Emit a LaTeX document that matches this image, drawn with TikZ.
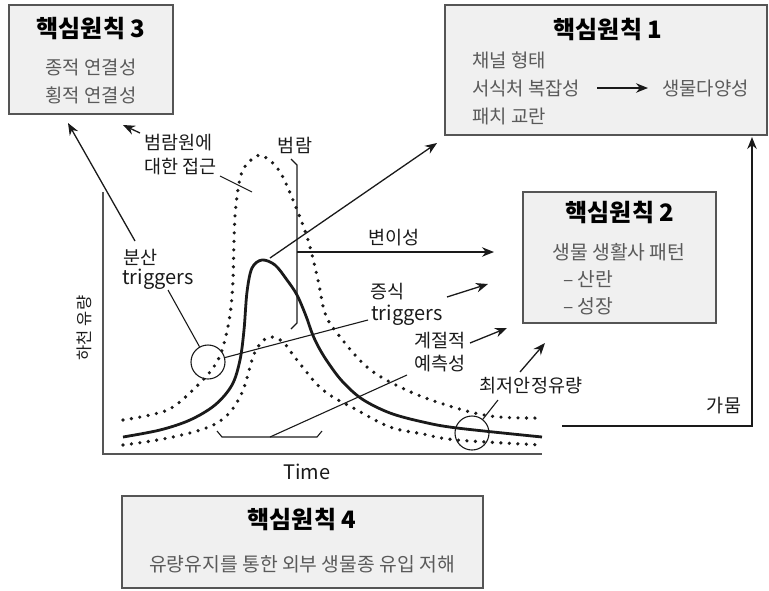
\documentclass[tikz,border=0pt]{standalone}
\usepackage{fontspec}
\setmainfont{Noto Sans CJK KR}
\usetikzlibrary{arrows.meta}
\definecolor{boxfill}{HTML}{F0F0F0}
\definecolor{boxline}{HTML}{555555}
\definecolor{bodytxt}{HTML}{5A5A5A}
\definecolor{ink}{HTML}{1A1A1A}
\begin{document}
\begin{tikzpicture}[x=1pt,y=-1pt,
 box/.style={draw=boxline,fill=boxfill,line width=1.6pt,inner sep=0pt},
 ttl/.style={font=\fontsize{24}{28}\selectfont\bfseries,text=black,inner sep=0pt},
 body/.style={font=\fontsize{18.8}{22}\selectfont,text=bodytxt,inner sep=0pt},
 bodyb/.style={font=\fontsize{19.3}{23}\selectfont,text=bodytxt,inner sep=0pt},
 lbl/.style={font=\fontsize{18.5}{21}\selectfont,text=ink,inner sep=0pt,align=left},
 lat/.style={font=\fontsize{20}{22}\selectfont},
 arr/.style={-{Stealth[length=12pt,width=9.5pt]},line width=1.3pt,draw=ink},
 lead/.style={line width=1.1pt,draw=ink},
 dots/.style={line width=3.6pt,line cap=round,dash pattern=on 0pt off 8.5pt,draw=ink},
 flow/.style={line width=2.8pt,draw=ink,line join=round},
 ring/.style={circle,draw=ink,line width=1.1pt,minimum size=34pt,inner sep=0pt},
]
\useasboundingbox (0,0) rectangle (769,590);

% ---------- boxes ----------
\node[box,minimum width=164pt,minimum height=109pt] (b3) at (91,59.5) {};
\node[ttl] (b3t) at (91,28) {핵심원칙 3};
\node[body] (b3a) at (91,67) {종적 연결성};
\node[body] (b3b) at (91,95) {횡적 연결성};

\node[box,minimum width=322pt,minimum height=130pt] (b1) at (606,70) {};
\node[ttl] (b1t) at (608,29) {핵심원칙 1};
\node[body,anchor=west] (b1a) at (472,60) {채널 형태};
\node[body,anchor=west] (b1b) at (472,88) {서식처 복잡성};
\node[body,anchor=west] (b1c) at (472,116) {패치 교란};
\node[body,anchor=west] (b1d) at (662,88) {생물다양성};
\coordinate (b1s) at (597,88);
\coordinate (b1e) at (648,88);
\draw[arr] (b1s) -- (b1e);

\node[box,minimum width=193pt,minimum height=131pt] (b2) at (619.5,257.5) {};
\node[ttl] (b2t) at (620,212) {핵심원칙 2};
\node[bodyb] (b2a) at (619,252) {생물 생활사 패턴};
\node[bodyb,anchor=west] (b2b) at (563,279) {– 산란};
\node[bodyb,anchor=west] (b2c) at (563,306) {– 성장};

\node[box,minimum width=361pt,minimum height=92pt] (b4) at (302.5,542) {};
\node[ttl] (b4t) at (302,519) {핵심원칙 4};
\node[bodyb] (b4a) at (302,564) {유량유지를 통한 외부 생물종 유입 저해};

% ---------- axes ----------
\coordinate (ytop) at (103,192);
\coordinate (orig) at (103,454);
\coordinate (xend) at (542,454);
\draw[line width=1.5pt,draw=boxline] (ytop) -- (orig) -- (xend);
\node[lbl,font=\fontsize{16.5}{19}\selectfont,rotate=90] (ylab) at (84,328) {하천 유량};
\node[lbl,lat] (time) at (307,472) {Time};

% ---------- curves ----------
\draw[dots] plot[smooth,tension=0.6] coordinates {(123,420) (150,415) (173,407) (200,383) (215,365) (223,347) (230,315) (233,280) (234,240) (236,205) (242,172) (255,157) (265,157) (280,172) (295,205) (308,240) (318,280) (325,313) (337,333) (367,367) (400,387) (440,403) (490,416) (542,418)};
\draw[dots] plot[smooth,tension=0.6] coordinates {(123,445) (173,437) (217,423) (240,397) (253,357) (260,344) (270,337) (283,342) (297,360) (323,390) (357,410) (390,427) (423,434) (457,440) (542,445)};
\draw[flow] plot[smooth,tension=0.55] coordinates {(123,437) (160,430) (190,420) (215,405) (232,385) (240,360) (244,330) (247,292) (252,268) (262,260) (275,265) (287,280) (297,295) (306,316) (312,333) (318,346) (327,361) (342,381) (362,399) (390,413) (423,422) (457,428) (542,437)};

% ---------- rings ----------
\node[ring] (c1) at (208,362) {};
\node[ring] (c2) at (472,433) {};

% ---------- labels ----------
\node[lbl,anchor=west] (bunsan) at (123,257) {분산};
\node[lbl,lat,anchor=west] (trig1) at (122,279) {triggers};
\node[lbl,anchor=west] (acc1) at (144,143) {범람원에};
\node[lbl,anchor=west] (acc2) at (144,167) {대한 접근};
\node[lbl] (flood) at (295,145) {범람};
\node[lbl] (var) at (394,238) {변이성};
\node[lbl,anchor=west] (jeung) at (370,292) {증식};
\node[lbl,lat,anchor=west] (trig2) at (371,315) {triggers};
\node[lbl] (seas1) at (440,341) {계절적};
\node[lbl] (seas2) at (440,364) {예측성};
\node[lbl] (minf) at (531,386) {최저안정유량};
\node[lbl] (drought) at (724,406) {가뭄};

% ---------- connectors ----------
\coordinate (s1) at (135,241);  \coordinate (t3a) at (68,123);
\draw[arr] (s1) -- (t3a);
\coordinate (s2) at (140,133);  \coordinate (t3b) at (123,125);
\draw[arr] (s2) -- (t3b);
\coordinate (l1) at (168,290);
\draw[lead] (l1) -- (c1);
\coordinate (k1) at (368,320);
\draw[lead] (c1) -- (k1);
\coordinate (a1) at (220,176); \coordinate (a2) at (252,192);
\draw[lead] (a1) -- (a2);
\coordinate (fb1) at (291,159); \coordinate (fb2) at (297,165);
\coordinate (fb3) at (297,323); \coordinate (fb4) at (291,329);
\draw[lead] (fb1) -- (fb2) -- (fb3) -- (fb4);
\coordinate (vs) at (297,252); \coordinate (ve) at (494,252);
\draw[arr] (vs) -- (ve);
\coordinate (pk) at (270,258); \coordinate (pe) at (437,143);
\draw[arr] (pk) -- (pe);
\coordinate (bb1) at (217,431); \coordinate (bb2) at (222,437);
\coordinate (bb3) at (317,437); \coordinate (bb4) at (322,431);
\draw[lead] (bb1) -- (bb2) -- (bb3) -- (bb4);
\coordinate (bm) at (270,437); \coordinate (se) at (407,375);
\draw[lead] (bm) -- (se);
\coordinate (j1) at (447,297); \coordinate (j2) at (488,284);
\draw[arr] (j1) -- (j2);
\coordinate (g1) at (470,343); \coordinate (g2) at (507,328);
\draw[arr] (g1) -- (g2);
\coordinate (m1) at (520,372); \coordinate (m2) at (545,343);
\draw[arr] (m1) -- (m2);
\coordinate (m3) at (498,400);
\draw[lead] (m3) -- (c2);
\coordinate (d1) at (562,426); \coordinate (d2) at (752,426); \coordinate (d3) at (752,137);
\draw[arr] (d1) -- (d2) -- (d3);
\end{tikzpicture}
\end{document}
